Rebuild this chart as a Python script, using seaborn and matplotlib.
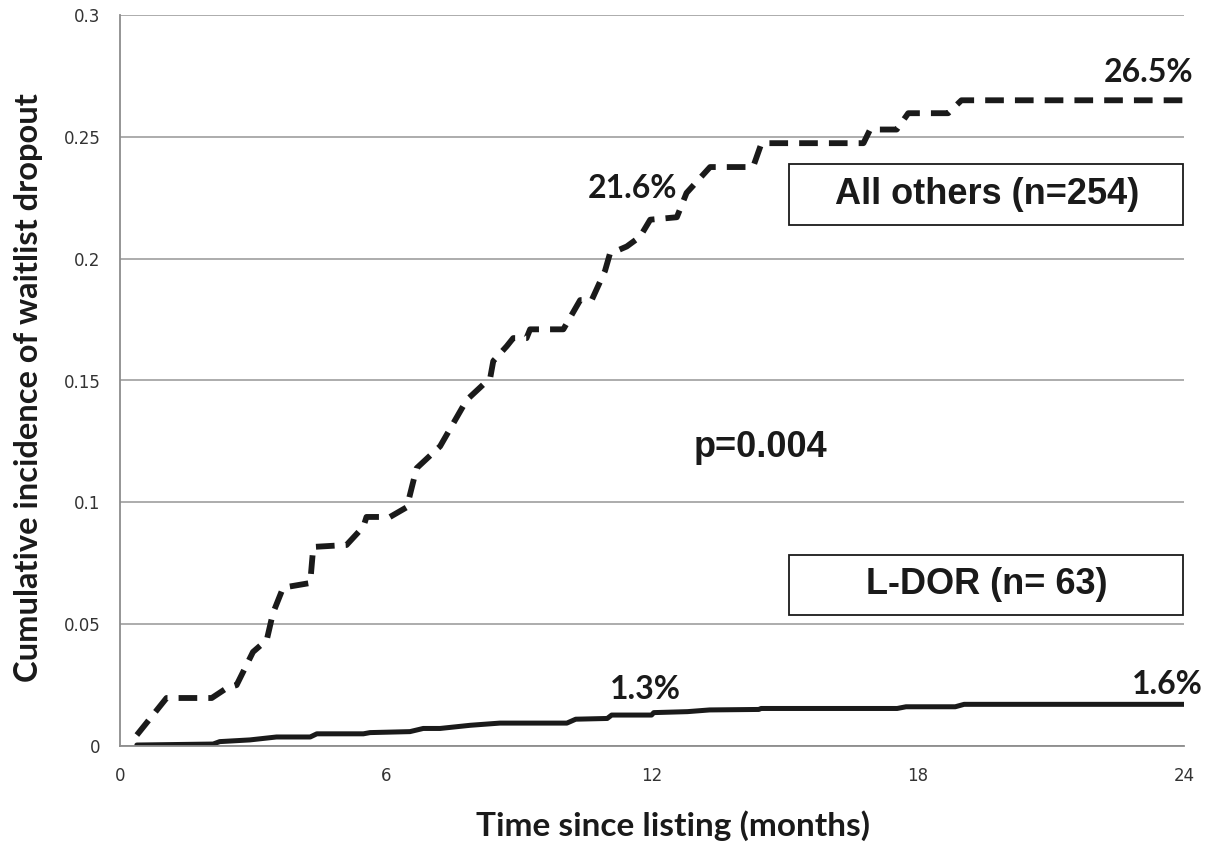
import matplotlib
matplotlib.use("Agg")
import matplotlib.pyplot as plt
from matplotlib.patches import Rectangle
import seaborn as sns
import pandas as pd

# ---- data ----
others_months = [0.38, 1.05, 2.07, 2.41, 2.63, 3.0, 3.31, 3.45, 3.68, 4.29, 4.36, 5.11, 5.49, 5.56,
                 6.09, 6.47, 6.69, 7.22, 7.82, 8.35, 8.42, 8.72, 8.87, 9.17, 9.25, 10.0, 10.38,
                 10.64, 10.94, 11.05, 11.43, 11.73, 11.96, 12.56, 12.78, 13.31, 14.28, 14.47,
                 16.77, 16.92, 17.52, 17.78, 18.68, 18.98, 24.0]
others_inc = [0.0045, 0.0197, 0.0197, 0.0238, 0.025, 0.0386, 0.0435, 0.0545, 0.065, 0.0669, 0.0817,
              0.0825, 0.090, 0.094, 0.094, 0.098, 0.114, 0.123, 0.142, 0.151, 0.158, 0.164, 0.1674,
              0.1674, 0.171, 0.171, 0.183, 0.183, 0.195, 0.202, 0.205, 0.209, 0.216, 0.217, 0.227,
              0.2376, 0.2376, 0.2474, 0.2474, 0.253, 0.253, 0.2597, 0.2597, 0.265, 0.265]

ldor_months = [0.38, 2.1, 2.25, 2.93, 3.53, 4.29, 4.44, 5.49, 5.64, 6.54, 6.84, 7.22, 7.9, 8.57,
               10.08, 10.28, 10.99, 11.09, 11.99, 12.04, 12.8, 13.3, 14.41, 14.46, 17.53, 17.73,
               18.84, 19.04, 24.0]
ldor_inc = [0.0004, 0.0008, 0.0018, 0.0025, 0.0037, 0.0037, 0.005, 0.005, 0.0055, 0.0059, 0.0072,
            0.0072, 0.0085, 0.0094, 0.0094, 0.011, 0.0113, 0.0127, 0.0127, 0.0137, 0.0141, 0.0148,
            0.015, 0.0154, 0.0154, 0.0161, 0.0161, 0.0171, 0.0171]

x_ticks = [0, 6, 12, 18, 24]
y_ticks = [0, 0.05, 0.1, 0.15, 0.2, 0.25, 0.3]
y_tick_labels = ["0", "0.05", "0.1", "0.15", "0.2", "0.25", "0.3"]

others_label = "All others (n=254)"
ldor_label = "L-DOR (n= 63)"
pct_labels = ["21.6%", "26.5%", "1.3%", "1.6%"]
p_text = "p=0.004"

# ---- plot ----
sns.set_style("white")
plt.rcParams["font.family"] = ["DejaVu Sans"]
fig = plt.figure(figsize=(12.2, 8.51), dpi=100)
ax = fig.add_axes([120 / 1220, 1 - 746 / 851, 1064 / 1220, 731 / 851])

df_o = pd.DataFrame({"month": others_months, "inc": others_inc})
df_l = pd.DataFrame({"month": ldor_months, "inc": ldor_inc})

sns.lineplot(data=df_o, x="month", y="inc", ax=ax, color="#1a1a1a", linewidth=4.2,
             estimator=None, sort=False)
ln = ax.lines[-1]
ln.set_dashes((3.2, 1.9))
ln.set_dash_capstyle("butt")
sns.lineplot(data=df_l, x="month", y="inc", ax=ax, color="#1a1a1a", linewidth=3.6,
             estimator=None, sort=False)

ax.set_xlim(0, 24)
ax.set_ylim(0, 0.3)
ax.set_xticks(x_ticks)
ax.set_xticklabels([str(t) for t in x_ticks])
ax.set_yticks(y_ticks)
ax.set_yticklabels(y_tick_labels)
ax.grid(axis="y", color="#a6a6a6", linewidth=1.3)
ax.grid(axis="x", visible=False)
ax.set_axisbelow(True)
for s in ["top", "right"]:
    ax.spines[s].set_visible(False)
for s in ["left", "bottom"]:
    ax.spines[s].set_color("#8c8c8c")
    ax.spines[s].set_linewidth(1.3)
ax.tick_params(axis="both", which="both", direction="out", length=6, width=1.2,
               color="#8c8c8c", labelsize=12, labelcolor="#333333")
ax.tick_params(axis="y", pad=8)
ax.tick_params(axis="x", pad=9)

cal_font = ["Lato", "DejaVu Sans"]
arial_font = ["Liberation Sans", "DejaVu Sans"]
ink = "#1a1a1a"

ax.set_xlabel("Time since listing (months)", fontsize=24, fontweight="bold",
              family=cal_font, color=ink)
ax.xaxis.set_label_coords(0.52, -0.088)
ax.set_ylabel("Cumulative incidence of waitlist dropout", fontsize=23.5, fontweight="bold",
              family=cal_font, color=ink)
ax.yaxis.set_label_coords(-0.072, 0.49)

pct_pos = [(11.55, 0.229), (23.19, 0.2766), (11.84, 0.023), (23.62, 0.0254)]
for txt, (xm, yv) in zip(pct_labels, pct_pos):
    ax.text(xm, yv, txt, ha="center", va="center", fontsize=23, fontweight="bold",
            family=cal_font, color=ink)
ax.text(14.44, 0.1227, p_text, ha="center", va="center", fontsize=26, fontweight="bold",
        family=arial_font, color=ink)

# boxed group labels
for label, y0, y1 in [(others_label, 0.2138, 0.2388), (ldor_label, 0.0538, 0.0784)]:
    ax.add_patch(Rectangle((15.09, y0), 24 - 15.09 - 0.03, y1 - y0, facecolor="white",
                           edgecolor=ink, linewidth=1.3, zorder=3))
    ax.text(19.55, (y0 + y1) / 2, label, ha="center", va="center", fontsize=26,
            fontweight="bold", family=arial_font, color=ink, zorder=4)

fig.savefig("out.png", dpi=100)
